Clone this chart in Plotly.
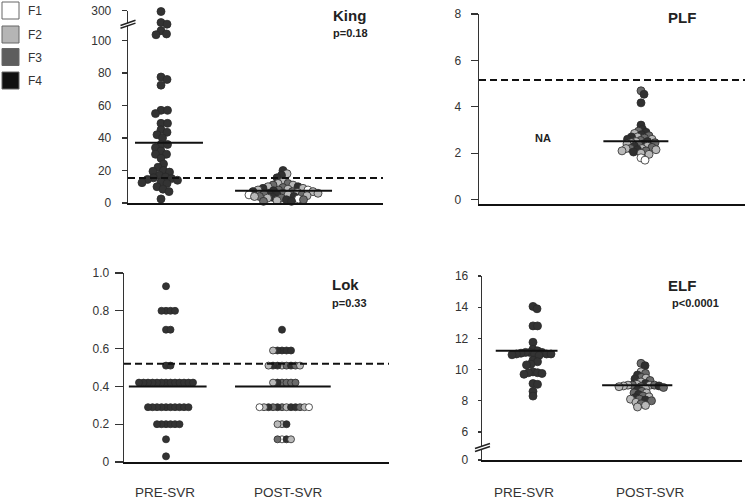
import plotly.graph_objects as go

W, H = 745, 501

# ---------------- data ----------------
groups = ["PRE-SVR", "POST-SVR"]
fib_labels = ["F1", "F2", "F3", "F4"]

king_pre = [285, 111, 110, 106, 104, 103.5, 77.5, 76, 72.5, 57, 57, 55, 49, 49, 45, 43.5,
            42, 40, 36, 36, 34, 32, 30, 30, 27.5, 24, 22, 20, 19.5, 19, 17, 16, 15.5, 15,
            14.5, 14, 13, 12.5, 12, 10, 8.5, 7, 2.5]
king_post = [20, 18, 17, 15.5, 13, 12, 12, 11, 11, 10, 10, 9.5, 9, 9, 8.5, 8, 8, 8, 7.5, 7,
             7, 7, 6.5, 6, 6, 6, 5.5, 5, 5, 5, 5, 4.5, 4, 4, 4, 3.5, 3, 3, 2.5, 2, 2, 1.5, 1, 1]
king_post_fib = [4, 2, 4, 4, 2, 3, 2, 2, 3, 4, 2, 3, 2, 4, 2, 3, 1, 2, 4, 3, 2, 4, 2, 3, 4,
                 2, 3, 2, 4, 3, 1, 2, 4, 3, 2, 4, 3, 2, 1, 4, 3, 2, 4, 3]
king_median = [37, 7.5]
king_cutoff = 15.4
king_p = "p=0.18"

plf_post = [4.69, 4.54, 4.17, 3.21, 3.03, 2.95, 2.9, 2.85, 2.8, 2.75, 2.7, 2.7, 2.65, 2.6, 2.6,
            2.55, 2.5, 2.5, 2.45, 2.45, 2.4, 2.4, 2.35, 2.3, 2.3, 2.25, 2.2, 2.2, 2.2, 2.15,
            2.15, 2.1, 2.1, 2.05, 2.0, 1.95, 1.8, 1.7]
plf_post_fib = [3, 4, 4, 4, 4, 3, 4, 2, 4, 3, 2, 4, 3, 2, 4, 3, 2, 4, 2, 3, 4, 2, 3, 2, 4,
                3, 2, 3, 2, 4, 2, 3, 2, 4, 2, 2, 1, 1]
plf_median = 2.52
plf_cutoff = 5.15

lok_pre = [0.93, 0.80, 0.80, 0.80, 0.80, 0.70, 0.70, 0.51, 0.51,
           0.42, 0.42, 0.42, 0.42, 0.42, 0.42, 0.42, 0.42, 0.42, 0.42, 0.42, 0.42, 0.42,
           0.29, 0.29, 0.29, 0.29, 0.29, 0.29, 0.29, 0.29, 0.29, 0.29,
           0.20, 0.20, 0.20, 0.20, 0.20, 0.20, 0.12, 0.03]
lok_post = [0.70, 0.59, 0.59, 0.59, 0.59, 0.59,
            0.51, 0.51, 0.51, 0.51, 0.51, 0.51, 0.51, 0.51,
            0.42, 0.42, 0.42, 0.42, 0.42, 0.42,
            0.29, 0.29, 0.29, 0.29, 0.29, 0.29, 0.29, 0.29, 0.29, 0.29, 0.29, 0.29,
            0.20, 0.20, 0.20, 0.12, 0.12, 0.12, 0.12]
lok_post_fib = [4, 4, 4, 4, 4, 2, 2, 3, 4, 4, 4, 3, 2, 2, 3, 3, 4, 3, 2, 3,
                3, 2, 4, 4, 3, 4, 4, 3, 2, 2, 1, 1, 2, 4, 2, 1, 4, 3, 2]
lok_median = [0.40, 0.40]
lok_cutoff = 0.52
lok_p = "p=0.33"

elf_pre = [14.05, 13.9, 12.8, 12.8, 11.75, 11.3, 11.2, 11.1, 11.1, 11.1, 11.05, 11.0, 11.0,
           11.0, 11.0, 10.95, 10.9, 10.6, 10.5, 10.35, 10.3, 9.85, 9.8, 9.8, 9.75, 9.7,
           9.1, 9.05, 8.6, 8.3]
elf_post = [10.4, 10.25, 9.85, 9.75, 9.65, 9.5, 9.45, 9.4, 9.3, 9.2, 9.1, 9.05, 9.0, 9.0,
            9.0, 9.0, 8.95, 8.95, 8.9, 8.9, 8.85, 8.8, 8.7, 8.6, 8.5, 8.5, 8.4, 8.3, 8.25,
            8.2, 8.1, 8.1, 8.05, 8.0, 7.9, 7.8, 7.7, 7.6]
elf_post_fib = [3, 4, 2, 3, 4, 3, 2, 4, 3, 2, 4, 2, 3, 2, 2, 3, 2, 4, 3, 2, 3, 2, 4, 3, 2,
                3, 4, 3, 2, 4, 3, 2, 4, 3, 2, 3, 2, 2]
elf_median = [11.2, 9.0]
elf_p = "p<0.0001"

for a, b in [(king_post, king_post_fib), (plf_post, plf_post_fib),
             (lok_post, lok_post_fib), (elf_post, elf_post_fib)]:
    assert len(a) == len(b)

# ---------------- styling ----------------
FILL = {1: "#ffffff", 2: "#b9b9b9", 3: "#6b6b6b", 4: "#303030"}
LEG_FILL = {1: "#ffffff", 2: "#b5b5b5", 3: "#5e5e5e", 4: "#111111"}
PRE_FILL = "#333333"
EDGE = "#2a2a2a"
FONT = "Liberation Sans, Arial, sans-serif"


def fx(px):
    return px / W


def fy(py):
    return 1 - py / H


# King broken axis: values above the break are compressed
KING_TOP = 118.3


def king_disp(v):
    return v if v <= 112 else 112 + (v - 112) * (KING_TOP - 112) / (300 - 112)


# ELF broken axis: "0" drawn at bottom of a compressed segment
ELF_ZERO = 4.2

panels = {
    "king": dict(ax="", xd=(128, 383), yd=(203, 10.7), pre=161, post=283, yr=(0, KING_TOP),
                 tickvals=[0, 20, 40, 60, 80, 100, KING_TOP],
                 ticktext=["0", "20", "40", "60", "80", "100", "300"], ticklen=5, stand=8),
    "plf": dict(ax="2", xd=(479, 745), yd=(204, 14), pre=527, post=641, yr=(-0.19, 8),
                tickvals=[0, 2, 4, 6, 8], ticktext=["0", "2", "4", "6", "8"], ticklen=7, stand=7),
    "lok": dict(ax="3", xd=(124, 389), yd=(462, 273), pre=166, post=282, yr=(0, 1),
                tickvals=[0, 0.2, 0.4, 0.6, 0.8, 1.0],
                ticktext=["0", "0.2", "0.4", "0.6", "0.8", "1.0"], ticklen=8, stand=3),
    "elf": dict(ax="4", xd=(482, 742), yd=(460, 276), pre=533, post=641, yr=(ELF_ZERO, 16),
                tickvals=[ELF_ZERO, 6, 8, 10, 12, 14, 16],
                ticktext=["0", "6", "8", "10", "12", "14", "16"], ticklen=3, stand=7),
}

for p in panels.values():
    ppx = p["post"] - p["pre"]
    p["ppx"] = ppx
    p["xr"] = (1 - (p["pre"] - p["xd"][0]) / ppx, 1 + (p["xd"][1] - p["pre"]) / ppx)
    p["ppy"] = (p["yd"][0] - p["yd"][1]) / (p["yr"][1] - p["yr"][0])


def swarm(vals, ppy, ppx, dmin, step=0.5):
    placed, out = [], []
    for v in vals:
        y = v * ppy
        k = 0
        found = None
        while found is None:
            cands = (0.0,) if k == 0 else (k * step, -k * step)
            for x in cands:
                if all((x - qx) ** 2 + (y - qy) ** 2 >= dmin * dmin for qx, qy in placed):
                    found = x
                    break
            k += 1
        placed.append((found, y))
        out.append(found / ppx)
    return out


fig = go.Figure()


def add_points(panel, vals, pos, colors, dmin, size=8):
    p = panels[panel]
    offs = swarm(vals, p["ppy"], p["ppx"], dmin)
    fig.add_trace(go.Scatter(
        x=[pos + o for o in offs], y=vals, mode="markers",
        xaxis="x" + p["ax"], yaxis="y" + p["ax"], cliponaxis=False, showlegend=False,
        marker=dict(size=size, color=colors, line=dict(color=EDGE, width=0.8)),
        hoverinfo="skip"))


def add_median(panel, pos, val, left, right):
    p = panels[panel]
    fig.add_trace(go.Scatter(
        x=[pos - left, pos + right], y=[val, val], mode="lines",
        xaxis="x" + p["ax"], yaxis="y" + p["ax"], showlegend=False, cliponaxis=False,
        line=dict(color="#111111", width=2), hoverinfo="skip"))


# King
king_pre_d = [king_disp(v) for v in king_pre]
add_points("king", king_pre_d, 1, PRE_FILL, 6.2)
add_points("king", king_post, 2, [FILL[f] for f in king_post_fib], 5.0)
add_median("king", 1, king_median[0], 0.213, 0.344)
add_median("king", 2, king_median[1], 0.393, 0.402)

# PLF
add_points("plf", plf_post, 2, [FILL[f] for f in plf_post_fib], 4.3)
add_median("plf", 2, plf_median, 0.33, 0.24)

# Lok
add_points("lok", lok_pre, 1, PRE_FILL, 4.4, size=7)
add_points("lok", lok_post, 2, [FILL[f] for f in lok_post_fib], 4.3, size=7)
add_median("lok", 1, lok_median[0], 0.32, 0.35)
add_median("lok", 2, lok_median[1], 0.405, 0.42)

# ELF
add_points("elf", elf_pre, 1, PRE_FILL, 4.3)
add_points("elf", elf_post, 2, [FILL[f] for f in elf_post_fib], 4.5)
add_median("elf", 1, elf_median[0], 0.345, 0.227)
add_median("elf", 2, elf_median[1], 0.36, 0.29)

layout = dict(width=W, height=H, margin=dict(l=0, r=0, t=0, b=0, pad=0, autoexpand=False),
              plot_bgcolor="white", paper_bgcolor="white", showlegend=False,
              template="none",
              font=dict(family=FONT, color="#333333"))

for name, p in panels.items():
    a = p["ax"]
    layout["xaxis" + a] = dict(domain=[fx(p["xd"][0]), fx(p["xd"][1])], range=list(p["xr"]),
                               anchor="y" + a, showline=True, linecolor="#111111", linewidth=2,
                               showticklabels=False, ticks="", showgrid=False, zeroline=False,
                               automargin=False, fixedrange=True)
    layout["yaxis" + a] = dict(domain=[fy(p["yd"][0]), fy(p["yd"][1])], range=list(p["yr"]),
                               anchor="x" + a, showline=True, linecolor="#333333", linewidth=1.3,
                               ticks="outside", ticklen=p["ticklen"], tickcolor="#333333",
                               tickwidth=1.2, tickvals=p["tickvals"], ticktext=p["ticktext"],
                               tickfont=dict(size=12, color="#333333", family=FONT),
                               ticklabelstandoff=p["stand"], automargin=False,
                               showgrid=False, zeroline=False, fixedrange=True)

shapes = []
for name, val in [("king", king_cutoff), ("plf", plf_cutoff), ("lok", lok_cutoff)]:
    a = panels[name]["ax"]
    shapes.append(dict(type="line", xref="x" + a + " domain", yref="y" + a, x0=0, x1=1,
                       y0=val, y1=val, line=dict(color="#111111", width=2, dash="7px,4px")))


def brk(x0, y0, x1, y1, gap):
    shapes.append(dict(type="path", xref="paper", yref="paper",
                       path=f"M{fx(x0)},{fy(y0)} L{fx(x1)},{fy(y1)} L{fx(x1)},{fy(y1 + gap)} "
                            f"L{fx(x0)},{fy(y0 + gap)} Z",
                       fillcolor="white", line=dict(width=0)))
    for g in (0, gap):
        shapes.append(dict(type="line", xref="paper", yref="paper",
                           x0=fx(x0), y0=fy(y0 + g), x1=fx(x1), y1=fy(y1 + g),
                           line=dict(color="#222222", width=1.5)))


brk(120.5, 25.5, 135.5, 20.3, 2.8)
brk(475, 448.5, 490, 443.5, 3.0)

leg_y = [2, 26, 48.5, 72]
for f, y0 in zip([1, 2, 3, 4], leg_y):
    shapes.append(dict(type="rect", xref="paper", yref="paper",
                       x0=fx(2), x1=fx(19), y0=fy(y0), y1=fy(y0 + 17),
                       fillcolor=LEG_FILL[f], line=dict(color="#666666", width=1)))

annotations = []
for lab, y0 in zip(fib_labels, leg_y):
    annotations.append(dict(text=lab, xref="paper", yref="paper", x=fx(26), y=fy(y0 + 9),
                            xanchor="left", yanchor="middle", showarrow=False,
                            font=dict(size=12, color="#333333", family=FONT)))


def txt(s, x, y, size, bold=True, anchor="left", color="#222222"):
    annotations.append(dict(text=f"<b>{s}</b>" if bold else s, xref="paper", yref="paper",
                            x=fx(x), y=fy(y), xanchor=anchor, yanchor="middle",
                            showarrow=False, font=dict(size=size, color=color, family=FONT)))


txt("King", 331, 15, 15)
txt(king_p, 331, 33, 11)
txt("PLF", 666, 18, 15)
txt("NA", 543, 138, 11, anchor="center")
txt("Lok", 330, 284, 15)
txt(lok_p, 330, 303, 11)
txt("ELF", 666, 285, 15)
txt(elf_p, 670, 303, 11)

for lab, x in zip(groups, [165, 288]):
    txt(lab, x, 492, 13.5, bold=False, anchor="center", color="#333333")
for lab, x in zip(groups, [524, 650]):
    txt(lab, x, 492, 13.5, bold=False, anchor="center", color="#333333")

layout["shapes"] = shapes
layout["annotations"] = annotations
fig.update_layout(**layout)
fig.write_html("out.html",
               config={"displayModeBar": False, "staticPlot": True},
               post_script="document.body.style.margin='0px';"
                           "document.body.style.padding='0px';"
                           "document.body.style.overflow='hidden';")
